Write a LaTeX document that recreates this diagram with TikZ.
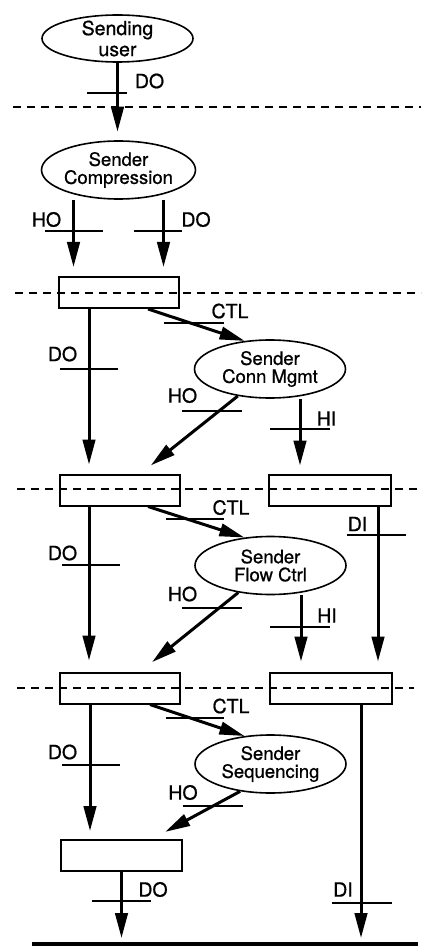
\documentclass[tikz,border=0pt]{standalone}
\usepackage{fontspec}
\setmainfont{TeX Gyre Heros}[FakeBold=0.8]
\usetikzlibrary{arrows.meta,shapes.geometric,calc}

\begin{document}
\begin{tikzpicture}[
  x=1pt, y=-1pt,
  >={Triangle[length=25pt,width=12.5pt]},
  proc/.style={draw, ellipse, line width=1.6pt, inner sep=0pt, minimum width=151pt, minimum height=58pt, align=center, font=\fontsize{18.5}{18}\selectfont},
  buf/.style={draw, line width=2pt, minimum width=120pt, minimum height=31pt, inner sep=0pt},
  flow/.style={->, line width=3pt},
  cut/.style={fill, inner sep=0pt, minimum height=1.8pt},
  lbl/.style={inner sep=0pt, font=\fontsize{19.5}{19.5}\selectfont},
  divider/.style={line width=1.6pt, dash pattern=on 8pt off 6pt}
]
\useasboundingbox (0,0) rectangle (421,949);

% layer boundaries
\draw[divider] (13,107) -- (421,107);
\draw[divider] (15,293) -- (421,293);
\draw[divider] (17,489) -- (421,489);
\draw[divider] (17,688) -- (414,688);

% processes
\node[proc, minimum height=47pt, inner ysep=-7pt, font=\fontsize{19.5}{21}\selectfont] (user) at (117.5,38.5) {Sending\\user};
\node[proc] (comp) at (118.5,170) {Sender\\Compression};
\node[proc] (connmgmt) at (270,369) {Sender\\Conn Mgmt};
\node[proc] (flowctrl) at (270.5,565.5) {Sender\\Flow Ctrl};
\node[proc] (seq) at (270.5,764) {Sender\\Sequencing};

% buffers
\node[buf] (bufA) at (119,292.5) {};
\node[buf] (bufB) at (120,490) {};
\node[buf, minimum width=122pt] (bufBr) at (330,490) {};
\node[buf] (bufC) at (120,688) {};
\node[buf, minimum width=122pt] (bufCr) at (330.5,688) {};
\node[buf, minimum width=121pt] (bufD) at (121.5,855.5) {};

\coordinate (endDO) at (121.5,938);
\coordinate (endDI) at (361,938);

% flows
\draw[flow, shorten >=8.5pt] (user.south) -- (user.south |- comp.north);
\draw[flow, shorten >=9pt] ([xshift=-45pt]comp.south) -- ([xshift=-45pt]comp.south |- bufA.north);
\draw[flow, shorten >=9pt] ([xshift=45pt]comp.south) -- ([xshift=45pt]comp.south |- bufA.north);
\draw[flow, shorten >=9pt] ([xshift=-30pt]bufA.south) -- ([xshift=-30pt]bufA.south |- bufB.north);
\draw[flow] ([xshift=29pt]bufA.south) -- (connmgmt.132);
\draw[flow, shorten >=13pt] (connmgmt.220) -- (bufB);
\draw[flow, shorten >=8pt] ([xshift=30pt]connmgmt.south) -- ([xshift=30pt]connmgmt.south |- bufBr.north);

\draw[flow, shorten >=11pt] ([xshift=-31pt]bufB.south) -- ([xshift=-31pt]bufB.south |- bufC.north);
\draw[flow] ([xshift=28pt]bufB.south) -- (flowctrl.133);
\draw[flow, shorten >=10pt] ([xshift=48pt]bufBr.south) -- ([xshift=48pt]bufBr.south |- bufCr.north);
\draw[flow, shorten >=15pt] (flowctrl.220) -- (bufC);
\draw[flow, shorten >=10pt] ([xshift=30.5pt]flowctrl.south) -- ([xshift=30.5pt]flowctrl.south |- bufCr.north);

\draw[flow, shorten >=8pt] ([xshift=-30pt]bufC.south) -- ([xshift=-30pt]bufC.south |- bufD.north);
\draw[flow] ([xshift=30pt]bufC.south) -- (seq.133);
\draw[flow, shorten >=15pt] (seq.222) -- (bufD);
\draw[flow] (bufD.south) -- (endDO);
\draw[flow] ([xshift=30.5pt]bufCr.south) -- (endDI);

% cut marks
\node[cut, minimum width=40pt] (cut1) at (107,93) {};
\node[cut, minimum width=58pt] (cut2) at (74,231) {};
\node[cut, minimum width=48pt] (cut3) at (158,231) {};
\node[cut, minimum width=60pt] (cut4) at (194,323) {};
\node[cut, minimum width=58pt] (cut5) at (89,369) {};
\node[cut, minimum width=60pt] (cut6) at (212,411) {};
\node[cut, minimum width=60pt] (cut7) at (300,429) {};
\node[cut, minimum width=58pt] (cut8) at (195,519) {};
\node[cut, minimum width=59pt] (cut9) at (376.5,535) {};
\node[cut, minimum width=58pt] (cut10) at (91,565) {};
\node[cut, minimum width=60pt] (cut11) at (212,608) {};
\node[cut, minimum width=60pt] (cut12) at (300,627) {};
\node[cut, minimum width=58pt] (cut13) at (195,718) {};
\node[cut, minimum width=58pt] (cut14) at (91,765) {};
\node[cut, minimum width=60pt] (cut15) at (213,806) {};
\node[cut, minimum width=59pt] (cut16) at (121.5,901) {};
\node[cut, minimum width=60pt] (cut17) at (362,903) {};

% labels
\node[lbl] (l1) at (149.5,81) {DO};
\node[lbl] (l2) at (46.5,219.5) {HO};
\node[lbl] (l3) at (196,219.5) {DO};
\node[lbl] (l4) at (230,311) {CTL};
\node[lbl] (l5) at (62.5,354) {DO};
\node[lbl] (l6) at (182.5,395.5) {HO};
\node[lbl] (l7) at (326.5,418.5) {HI};
\node[lbl] (l8) at (231,507.5) {CTL};
\node[lbl] (l9) at (357.5,524) {DI};
\node[lbl] (l10) at (62.5,553) {DO};
\node[lbl] (l11) at (182.5,594) {HO};
\node[lbl] (l12) at (327,615.5) {HI};
\node[lbl] (l13) at (231,706) {CTL};
\node[lbl] (l14) at (62.5,752) {DO};
\node[lbl] (l15) at (183,792.5) {HO};
\node[lbl] (l16) at (153,889.5) {DO};
\node[lbl] (l17) at (343,889.5) {DI};

% base line
\coordinate (groundL) at (32,944);
\coordinate (groundR) at (418,944);
\draw[line width=4pt] (groundL) -- (groundR);

\end{tikzpicture}
\end{document}
